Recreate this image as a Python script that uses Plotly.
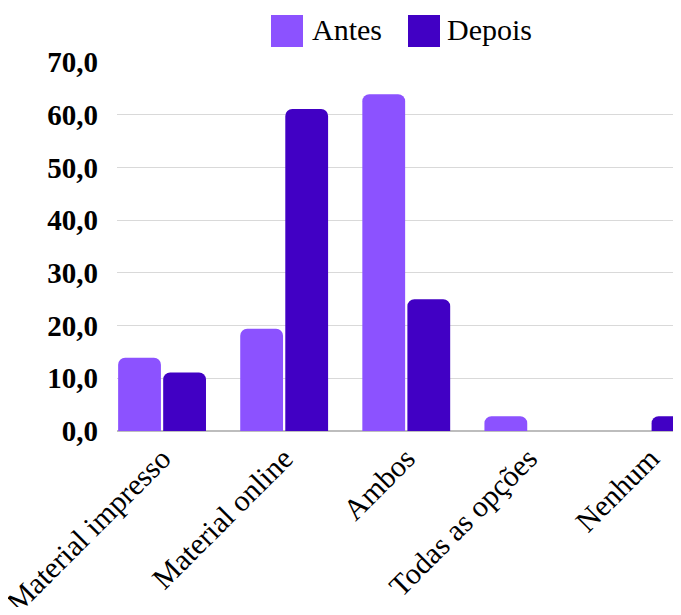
import plotly.graph_objects as go

categories = ["Material impresso", "Material online", "Ambos", "Todas as opções", "Nenhum"]
antes = [13.9, 19.4, 63.9, 2.8, 0.0]
depois = [11.1, 61.1, 25.0, 0.0, 2.8]
series_names = ["Antes", "Depois"]
series_colors = ["#8C52FF", "#4100C4"]
y_ticks = [0, 10, 20, 30, 40, 50, 60, 70]

OFF = 8  # page body margin
W, H = 681, 615 - 2 * OFF
L, R, T = 117 - OFF, 0, 62 - OFF
B = H - (431 - OFF)
FONT = "Liberation Serif"
X_RANGE = [-0.369, 4.25 + 8 / 122]

fig = go.Figure()
for name, vals, col in zip(series_names, [antes, depois], series_colors):
    fig.add_trace(go.Bar(x=categories, y=vals, name=name, marker_color=col,
                         marker_line_width=0, showlegend=False))

fig.update_layout(
    width=W, height=H,
    margin=dict(l=L, r=R, t=T, b=B, autoexpand=False),
    paper_bgcolor="white", plot_bgcolor="white",
    barmode="group", bargap=0.262, bargroupgap=0.05,
    barcornerradius=7,
    separators=",.",
    font=dict(family=FONT, color="black"),
)
fig.update_xaxes(
    range=X_RANGE, tickangle=-45, automargin=False,
    tickfont=dict(family=FONT, size=30, color="black"),
    showgrid=False, showline=False, ticks="", ticklabelstandoff=3,
)
fig.update_yaxes(
    range=[0, 70], tickvals=y_ticks, tickformat=".1f", automargin=False,
    tickfont=dict(family=FONT, size=29, color="black", weight="bold"),
    showgrid=True, gridcolor="#D9D9D9", gridwidth=1.3,
    zeroline=True, zerolinecolor="#BDBDBD", zerolinewidth=2,
    showline=False, ticks="", ticklabelstandoff=18,
)

# manual legend (larger swatches than Plotly's built-in); positions in screen px
pw, ph = W - L - R, H - T - B
def px_x(px): return (px - OFF - L) / pw
def px_y(py): return (H - B - (py - OFF)) / ph

legend_items = [(271, 313), (408, 448)]
for (sx, tx), name, col in zip(legend_items, series_names, series_colors):
    fig.add_shape(type="rect", xref="paper", yref="paper",
                  x0=px_x(sx), x1=px_x(sx + 32), y0=px_y(47), y1=px_y(15),
                  fillcolor=col, line_width=0)
    fig.add_annotation(xref="paper", yref="paper", x=px_x(tx - 3), y=px_y(30),
                       text=name, showarrow=False, xanchor="left", yanchor="middle",
                       font=dict(family=FONT, size=30, color="black"))

fig.write_html("out.html")
